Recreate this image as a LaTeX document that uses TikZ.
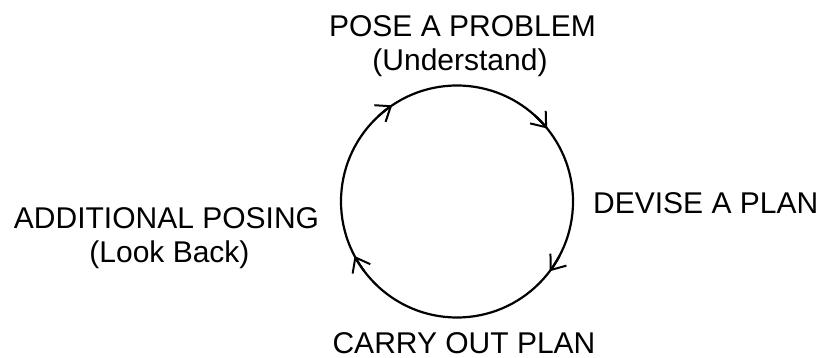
\documentclass[tikz,border=0pt]{standalone}
\usepackage{fontspec}
\setmainfont{Liberation Sans}
\usetikzlibrary{arrows.meta,calc}
\begin{document}
\begin{tikzpicture}[x=1pt,y=1pt,
  lbl/.style={inner sep=0pt, font=\fontsize{30}{36}\selectfont, anchor=base},
  ring/.style={line width=2.2pt},
  tip/.style={line width=2.2pt, -{Straight Barb[length=13pt,width=20pt,line width=2pt]}}]
\useasboundingbox (0,0) rectangle (821,-358);
\coordinate (c) at (457,-201.5);
\def\R{116}
\draw[ring] (c) circle[radius=\R];
\draw[tip] ($(c)+(133:\R)$) arc[start angle=133,end angle=124,radius=\R];
\draw[tip] ($(c)+(48:\R)$) arc[start angle=48,end angle=39,radius=\R];
\draw[tip] ($(c)+(-28:\R)$) arc[start angle=-28,end angle=-37,radius=\R];
\draw[tip] ($(c)+(217:\R)$) arc[start angle=217,end angle=208,radius=\R];
\node[lbl] (pose) at (462.5,-37) {POSE A PROBLEM};
\node[lbl] (und) at (460,-71) {(Understand)};
\node[lbl, anchor=base west] (devise) at (593,-213) {DEVISE A PLAN};
\node[lbl] (add) at (166.5,-228) {ADDITIONAL POSING};
\node[lbl] (look) at (169.5,-262) {(Look Back)};
\node[lbl] (carry) at (464,-353) {CARRY OUT PLAN};
\end{tikzpicture}
\end{document}
